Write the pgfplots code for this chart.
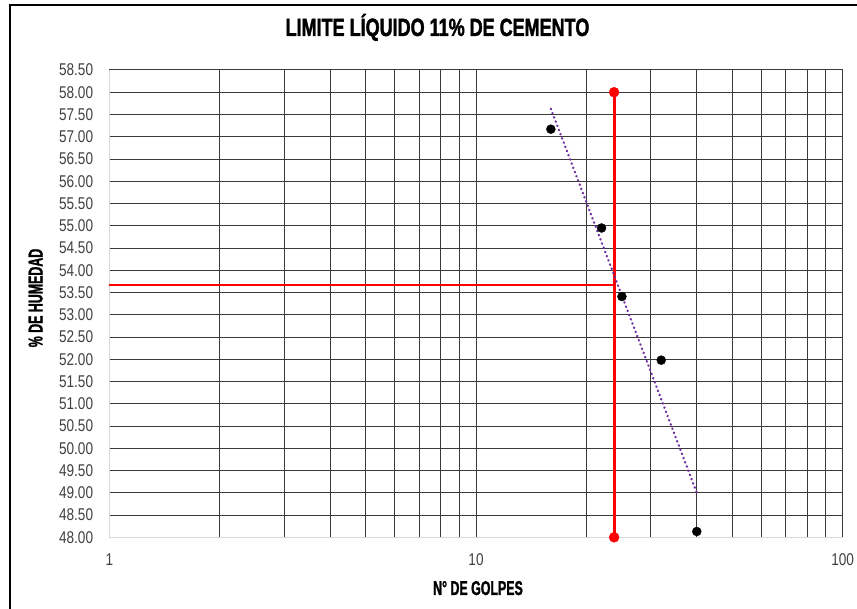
\documentclass[border=0pt]{standalone}
\usepackage{fontspec}
\setmainfont{Liberation Sans}
\newfontfamily\titlefont[FakeStretch=0.72, BoldFeatures={FakeBold=1.5}]{Liberation Sans}
\newfontfamily\labfont[FakeStretch=0.62, BoldFeatures={FakeBold=1.2}]{Liberation Sans}
\newfontfamily\tickfont[FakeStretch=0.8]{Liberation Sans}
\usepackage{pgfplots}
\pgfplotsset{compat=1.18}
\definecolor{trend}{HTML}{7030A0}
\definecolor{gridc}{HTML}{3A3A3A}
\definecolor{ticktext}{HTML}{404040}

\begin{document}
\begin{tikzpicture}[x=1pt,y=1pt]
\useasboundingbox (0,0) rectangle (857,608);
% outer frame (cut at right and bottom)
\draw[line width=2.5pt] (10,-5) -- (10,603) -- (870,603);

\node[anchor=base, font=\titlefont\bfseries\fontsize{25}{30}\selectfont] at (437.5,572) {LIMITE LÍQUIDO 11\% DE CEMENTO};
\node[anchor=base, font=\labfont\bfseries\fontsize{20}{24}\selectfont] at (478,13) {N° DE GOLPES};
\node[anchor=base, rotate=90, font=\labfont\bfseries\fontsize{20}{24}\selectfont] at (42.5,310) {\% DE HUMEDAD};

\begin{axis}[
    at={(109.3pt,70.7pt)}, anchor=south west,
    width=733.4pt, height=467.3pt, scale only axis,
    xmode=log, xmin=1, xmax=100,
    ymin=48, ymax=58.5,
    xtick={1,10,100}, xticklabels={1,10,100},
    minor xtick={2,3,4,5,6,7,8,9,20,30,40,50,60,70,80,90},
    ytick={48,48.5,49,49.5,50,50.5,51,51.5,52,52.5,53,53.5,54,54.5,55,55.5,56,56.5,57,57.5,58,58.5},
    /pgf/number format/assume math mode=true,
    /pgf/number format/fixed,
    /pgf/number format/fixed zerofill,
    /pgf/number format/precision=2,
    yticklabel style={font=\tickfont\fontsize{17}{18}\selectfont, text=ticktext, anchor=east, inner sep=0pt, xshift=-16pt},
    xticklabel style={font=\tickfont\fontsize{17}{18}\selectfont, text=ticktext, anchor=north, inner sep=0pt, yshift=-16pt},
    grid=both,
    major grid style={gridc, line width=1pt},
    minor grid style={gridc, line width=1pt},
    axis line style={draw=none},
    major tick length=0pt, minor tick length=0pt,
    clip=false,
]
% light left and bottom axis lines
\draw[gray!30, line width=1.3pt] (rel axis cs:0,1) -- (rel axis cs:0,0) -- (rel axis cs:1,0);
% liquid limit guides
\addplot[red, line width=3pt, mark=*, mark size=5pt, mark options={solid, fill=red, draw=red, line width=0.4pt}]
    coordinates {(23.8,48) (23.8,58)};
\addplot[red, line width=2pt] coordinates {(1,53.67) (23.8,53.67)};
% trend line
\addplot[trend, line width=2.3pt, line cap=round, dash pattern=on 0.5pt off 4pt]
    coordinates {(16,57.63) (40,49.0)};
% measured points
\addplot[only marks, mark=*, mark size=4.5pt, mark options={fill=black, draw=black}]
    coordinates {(16,57.17) (22,54.95) (25,53.41) (32,51.98) (40,48.13)};
\end{axis}
\end{tikzpicture}
\end{document}
